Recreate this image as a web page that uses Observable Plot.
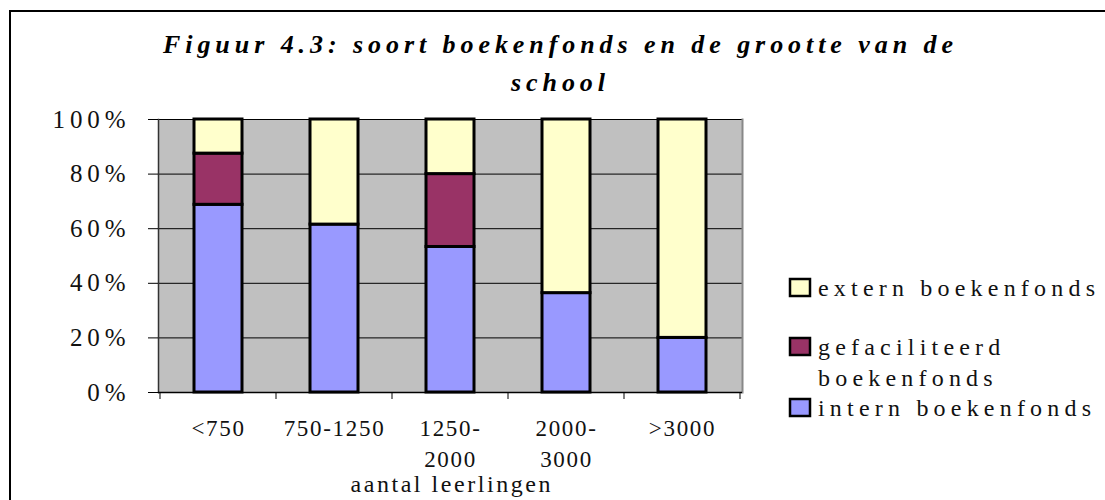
<!DOCTYPE html>
<html>
<head>
<meta charset="utf-8">
<script src="https://cdn.jsdelivr.net/npm/d3@7"></script>
<script src="https://cdn.jsdelivr.net/npm/@observablehq/plot@0.6"></script>
<style>
  html, body { margin: 0; padding: 0; background: #fff; }
  #wrap { position: relative; width: 1105px; height: 500px; overflow: hidden; }
  #frame { position: absolute; left: 9px; top: 10px; width: 1200px; height: 600px; border-top: 2px solid #000; border-left: 2px solid #000; box-sizing: border-box; }
  #chart, #overlay { position: absolute; left: 0; top: 0; }
</style>
</head>
<body>
<div id="wrap">
  <div id="frame"></div>
  <div id="chart"></div>
  <svg id="overlay" width="1105" height="500"></svg>
</div>
<script>
// Categories (aantal leerlingen)
const categories = ["<750", "750-1250", "1250-2000", "2000-3000", ">3000"];
const categoryLabels = ["<750", "750-1250", "1250-\n2000", "2000-\n3000", ">3000"];
// Series (share of schools, %), bottom to top in the stack
const series = ["intern boekenfonds", "gefaciliteerd boekenfonds", "extern boekenfonds"];
const intern = [68.75, 61.5, 53.3, 36.4, 20];
const gefaciliteerd = [18.75, 0, 26.7, 0, 0];
const extern = [12.5, 38.5, 20, 63.6, 80];
const colors = ["#9999ff", "#993366", "#ffffcc"];
const yTicks = [0, 20, 40, 60, 80, 100];
const titleLines = ["Figuur 4.3: soort boekenfonds en de grootte van de", "school"];
const xLabel = "aantal leerlingen";
const legendOrder = ["extern boekenfonds", "gefaciliteerd boekenfonds", "intern boekenfonds"];
const legendLines = [["extern boekenfonds"], ["gefaciliteerd", "boekenfonds"], ["intern boekenfonds"]];

const FONT = "Liberation Serif";

const values = [intern, gefaciliteerd, extern];
const rows = [];
series.forEach((s, si) => {
  categories.forEach((c, ci) => {
    rows.push({category: c, series: s, value: values[si][ci]});
  });
});

// custom mark: tick marks at the band boundaries on the x axis
function boundaryTicks(index, scales, vals, dims) {
  const x = scales.x;
  const g = d3.create("svg:g");
  const inner = dims.width - dims.marginLeft - dims.marginRight;
  const step = x.step ? x.step() : inner / categories.length;
  const bw = x.bandwidth ? x.bandwidth() : step * 0.41;
  const edges = categories.map(c => x(c) - (step - bw) / 2);
  edges.push(edges[edges.length - 1] + step);
  const yb = dims.height - dims.marginBottom;
  edges.forEach(e => {
    g.append("line").attr("x1", e).attr("x2", e).attr("y1", yb).attr("y2", yb + 7)
      .attr("stroke", "#000").attr("stroke-width", 1);
  });
  return g.node();
}

const chart = Plot.plot({
  width: 1105,
  height: 500,
  marginTop: 119,
  marginLeft: 158,
  marginRight: 363,
  marginBottom: 108,
  style: {fontFamily: FONT, background: "transparent", color: "#111"},
  x: {domain: categories, paddingInner: 0.59, paddingOuter: 0.295, label: null},
  y: {domain: [0, 100], label: null},
  color: {domain: series, range: colors},
  marks: [
    Plot.frame({fill: "#c0c0c0", stroke: "none"}),
    Plot.gridY(yTicks, {stroke: "#000", strokeOpacity: 1, strokeWidth: 1}),
    Plot.barY(rows, {x: "category", y: "value", fill: "series", order: series, stroke: "#000", strokeWidth: 3}),
    Plot.frame({anchor: "left", stroke: "#333", strokeWidth: 1.5}),
    Plot.frame({anchor: "right", stroke: "#888", strokeWidth: 2}),
    Plot.ruleY([0], {stroke: "#000", strokeWidth: 1.5}),
    Plot.axisY(yTicks, {tickSize: 10, tickPadding: 23, tickFormat: d => d + "%", fontSize: 25, stroke: "#000", label: null}),
    Plot.axisX({tickSize: 0, tickPadding: 21, tickFormat: d => categoryLabels[categories.indexOf(d)], fontSize: 23, lineHeight: 1.35, label: null}),
    boundaryTicks,
    Plot.text([xLabel], {frameAnchor: "bottom", lineAnchor: "middle", dy: 92, fontSize: 24, fill: "#111"})
  ]
});
document.getElementById("chart").appendChild(chart);

// spread letters so that a sample text reaches a target visible width
function spread(nodes, sample, target, shiftTrailing) {
  const ref = nodes.find(n => n.textContent === sample) || nodes[0];
  if (!ref) return 0;
  nodes.forEach(n => n.style.letterSpacing = "0px");
  const w = ref.getComputedTextLength();
  const n = sample.length;
  const s = Math.max(0, (target - w) / Math.max(1, n - 1));
  nodes.forEach(node => {
    node.style.letterSpacing = s + "px";
    if (shiftTrailing) node.setAttribute("dx", shiftTrailing * s);
  });
  return s;
}
const svg = d3.select("#chart svg");
spread(svg.selectAll('g[aria-label="y-axis tick label"] text').nodes(), "100%", 73, 1);
spread(svg.selectAll('g[aria-label="x-axis tick label"] text').nodes(), "750-1250", 100, 0);
spread(svg.selectAll('g[aria-label="text"] text').nodes(), xLabel, 200, 0.5);

// title + legend overlay
const ov = d3.select("#overlay").style("font-family", FONT);
const tl = [53, 91];
const titleNodes = titleLines.map((t, i) =>
  ov.append("text").attr("x", 558).attr("y", tl[i]).attr("text-anchor", "middle")
    .attr("font-size", 26).attr("font-weight", "bold").attr("font-style", "italic")
    .attr("fill", "#000").text(t).node());
spread(titleNodes, titleLines[0], 790, 0.5);

const legBase = [296, 355, 416];
const legNodes = [];
legendOrder.forEach((s, i) => {
  const color = colors[series.indexOf(s)];
  const b = legBase[i];
  ov.append("rect").attr("x", 790).attr("y", b - 17).attr("width", 20).attr("height", 17)
    .attr("fill", color).attr("stroke", "#000").attr("stroke-width", 2.5);
  legendLines[i].forEach((line, j) => {
    legNodes.push(ov.append("text").attr("x", 818).attr("y", b + j * 31).attr("font-size", 24)
      .attr("fill", "#111").text(line).node());
  });
});
spread(legNodes, "extern boekenfonds", 277, 0);
</script>
</body>
</html>
